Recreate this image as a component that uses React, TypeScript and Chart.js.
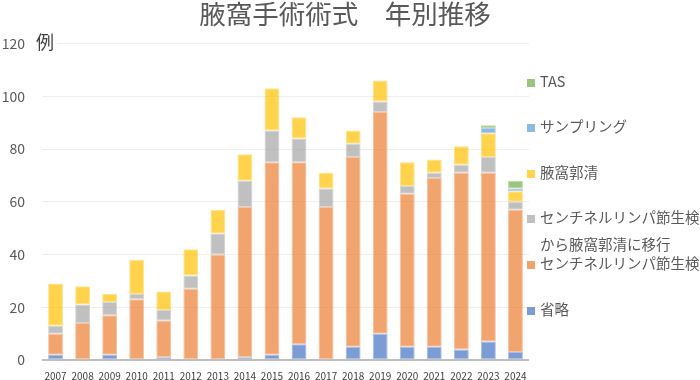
import React, { useEffect, useRef } from "react";
import { Chart, registerables } from "chart.js";

Chart.register(...registerables);

const years = ["2007","2008","2009","2010","2011","2012","2013","2014","2015","2016","2017","2018","2019","2020","2021","2022","2023","2024"];
const omitted = [2,0,2,0,1,0,0,1,2,6,0,5,10,5,5,4,7,3];
const slnb = [8,14,15,23,14,27,40,57,73,69,58,72,84,58,64,67,64,54];
const slnbToAlnd = [3,7,5,2,4,5,8,10,12,9,7,5,4,3,2,3,6,3];
const alnd = [16,7,3,13,7,10,9,10,16,8,6,5,8,9,5,7,9,4];
const sampling = [0,0,0,0,0,0,0,0,0,0,0,0,0,0,0,0,2,1];
const tas = [0,0,0,0,0,0,0,0,0,0,0,0,0,0,0,0,1,3];

const titleText = "腋窩手術術式　年別推移";
const unitText = "例";

const FONT = "'Noto Sans CJK JP', 'Noto Sans', sans-serif";

const legendItems: { color: string; lines: string[] }[] = [
  { color: "rgba(112,173,71,0.7)", lines: ["TAS"] },
  { color: "rgba(91,155,213,0.7)", lines: ["サンプリング"] },
  { color: "rgba(255,192,0,0.7)", lines: ["腋窩郭清"] },
  { color: "rgba(165,165,165,0.7)", lines: ["センチネルリンパ節生検", "から腋窩郭清に移行"] },
  { color: "rgba(237,125,49,0.7)", lines: ["センチネルリンパ節生検"] },
  { color: "rgba(68,114,196,0.7)", lines: ["省略"] },
];
const legendY = [83, 128, 174, 219, 265, 311];

export default function App() {
  const ref = useRef<HTMLCanvasElement | null>(null);
  useEffect(() => {
    document.body.style.margin = "0";
    if (!ref.current) return;
    const mk = (label: string, data: number[], r: number, g: number, b: number) => ({
      label,
      data: data.map((v) => (v === 0 ? null : v)),
      backgroundColor: `rgba(${r},${g},${b},0.7)`,
      borderColor: `rgba(${r},${g},${b},0.45)`,
      borderWidth: 1,
      borderSkipped: false as any,
      stack: "s",
    });
    const overlay = {
      id: "overlay",
      afterDraw(chart: any) {
        const ctx = chart.ctx;
        ctx.save();
        ctx.fillStyle = "#595959";
        ctx.font = `26.5px ${FONT}`;
        ctx.textAlign = "center";
        ctx.textBaseline = "middle";
        ctx.fillText(titleText, 345, 14);
        ctx.fillStyle = "#ffffff";
        ctx.fillRect(33, 32, 24, 22);
        ctx.fillStyle = "#404040";
        ctx.font = `18px ${FONT}`;
        ctx.textAlign = "left";
        ctx.fillText(unitText, 36, 42);
        legendItems.forEach((it, i) => {
          const cy = legendY[i];
          ctx.fillStyle = it.color;
          ctx.fillRect(527, cy - 4, 8, 8);
          ctx.fillStyle = "#595959";
          ctx.font = `14.5px ${FONT}`;
          ctx.textAlign = "left";
          ctx.textBaseline = "middle";
          it.lines.forEach((ln, j) => {
            ctx.fillText(ln, 540, cy - 2 + j * 27);
          });
        });
        ctx.restore();
      },
    };
    const chart = new Chart(ref.current, {
      type: "bar",
      data: {
        labels: years,
        datasets: [
          mk("省略", omitted, 68, 114, 196),
          mk("センチネルリンパ節生検", slnb, 237, 125, 49),
          mk("センチネルリンパ節生検から腋窩郭清に移行", slnbToAlnd, 165, 165, 165),
          mk("腋窩郭清", alnd, 255, 192, 0),
          mk("サンプリング", sampling, 91, 155, 213),
          mk("TAS", tas, 112, 173, 71),
        ],
      },
      options: {
        responsive: false,
        animation: false,
        devicePixelRatio: 1,
        layout: { padding: { top: 43.5, right: 171, bottom: 0, left: 0 } },
        plugins: {
          legend: { display: false },
          title: { display: false },
          tooltip: { enabled: false },
        },
        datasets: { bar: { categoryPercentage: 1, barPercentage: 0.55 } },
        scales: {
          x: {
            stacked: true,
            grid: { display: false, drawTicks: false },
            border: { display: false },
            ticks: { font: { size: 10, family: FONT }, color: "#404040", padding: 10, maxRotation: 0, autoSkip: false },
            afterFit: (s: any) => { s.height = 20; s.paddingLeft = 0; s.paddingRight = 0; },
          },
          y: {
            stacked: true,
            min: 0,
            max: 120,
            ticks: { stepSize: 20, font: { size: 14, family: FONT }, color: "#595959", padding: 17 },
            grid: {
              drawTicks: false,
              color: (c: any) => (c.tick && c.tick.value === 0 ? "#BFBFBF" : "#EEEEEE"),
              lineWidth: (c: any) => (c.tick && c.tick.value === 0 ? 2 : 1),
            },
            border: { display: false },
            afterFit: (s: any) => { s.width = 42; s.paddingTop = 0; s.paddingBottom = 0; },
          },
        },
      },
      plugins: [overlay],
    });
    return () => chart.destroy();
  }, []);
  return (
    <div style={{ position: "fixed", left: 0, top: 0, width: 700, height: 380, background: "#fff" }}>
      <canvas ref={ref} width={700} height={380} style={{ width: 700, height: 380, display: "block" }} />
    </div>
  );
}
